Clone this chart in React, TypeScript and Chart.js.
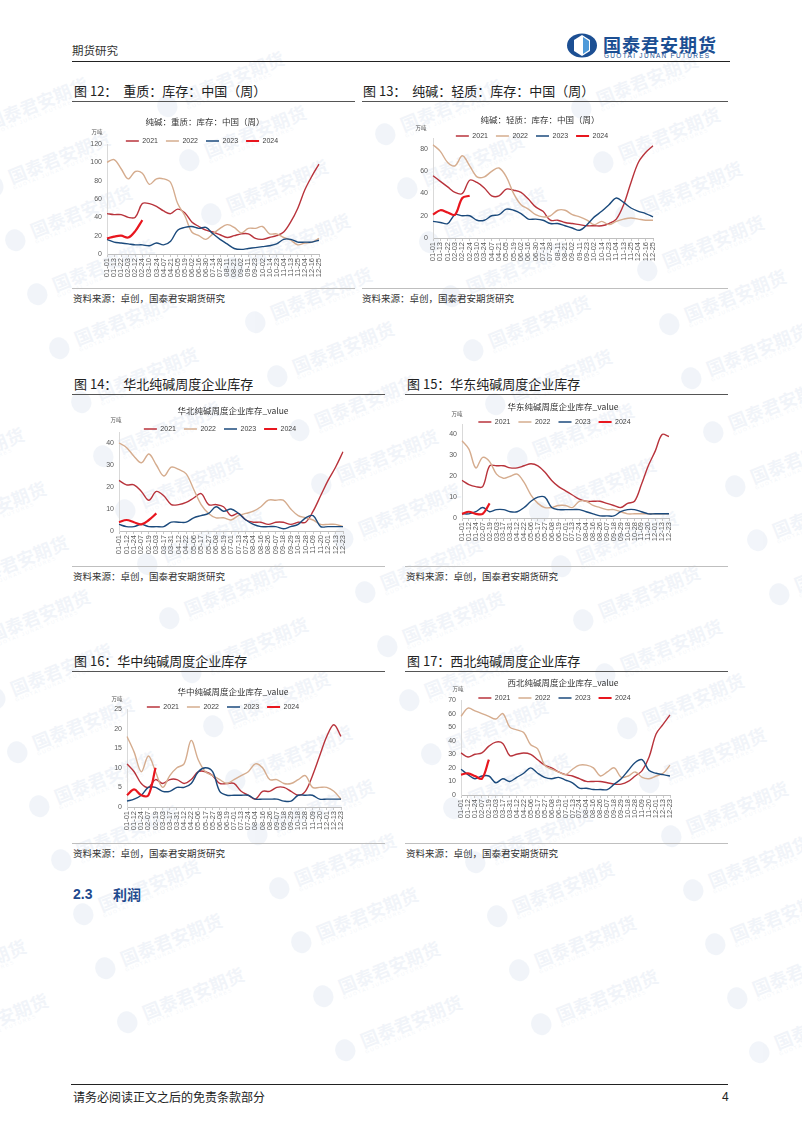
import React, { useEffect, useRef } from "react";
import { Chart, registerables } from "chart.js";

Chart.register(...registerables);

// ---------- categories ----------
const labelsHeavyLight = ["01-01","01-13","01-22","02-03","02-12","02-24","03-10","03-24","04-07","04-21","05-05","05-19","06-02","06-16","06-30","07-14","07-28","08-11","08-21","09-02","09-11","09-23","10-02","10-14","10-23","11-04","11-13","11-25","12-04","12-16","12-25"];
const labelsRegion = ["01-01","01-12","01-24","02-07","02-19","03-03","03-17","03-31","04-12","04-22","05-06","05-17","05-27","06-08","06-19","07-01","07-13","07-24","08-04","08-16","08-26","09-07","09-18","09-29","10-18","10-28","11-09","11-20","12-01","12-13","12-23"];

type V = (number | null)[];

// ---------- 图12 重质 ----------
const heavy2021: V = [44,43,43,40,40,55,55,52,47,44,49,45,35,30,26,24,21,18,20,22,22,17,16,18,20,24,35,50,70,85,98];
const heavy2022: V = [100,103,93,82,90,88,76,82,82,78,55,42,24,20,16,22,28,32,29,23,28,28,30,22,22,18,15,10,12,13,17];
const heavy2023: V = [16,13,12,11,10,10,9,12,10,14,26,29,30,28,29,22,16,11,6,5,6,7,8,9,11,16,16,13,13,13,15];
const heavy2024: V = [17,19,20,18,25,37];

// ---------- 图13 轻质 ----------
const light2021: V = [56,51,46,41,40,52,50,45,38,38,44,43,41,35,28,24,16,16,14,13,12,11,11,11,13,17,30,50,68,77,83];
const light2022: V = [84,78,68,65,74,65,55,55,60,63,55,40,30,26,21,19,20,25,25,21,19,16,12,15,12,15,17,18,17,16,16];
const light2023: V = [15,14,13,21,20,20,16,16,20,21,26,25,22,17,17,16,13,13,11,9,7,12,19,24,30,36,32,27,24,22,19];
const light2024: V = [21,25,23,21,36,38];

// ---------- 图14 华北 ----------
const north2021: V = [23,21,21,18,14,18,16,12,12,13,15,17,12,12,11,7,8,5,4,4,3,4,4,3,4,4,9,16,23,29,36];
const north2022: V = [40,38,34,31,35,30,25,29,28,26,19,12,8,6,6,5,7,8,9,11,14,14,14,10,7,6,5,3,3,3,2];
const north2023: V = [3,2,2,3,2,2,2,4,4,4,6,7,8,11,9,10,8,5,3,2,2,2,1,2,3,6,7,2,2,2,2];
const north2024: V = [4,5,4,3,5,8];

// ---------- 图15 华东 ----------
const east2021: V = [18,16,15,15,25,25,25,24,24,25,26,25,22,18,15,13,11,9,8,8,8,7,6,5,7,8,16,25,32,40,39];
const east2022: V = [37,33,24,29,27,21,19,20,21,17,11,7,5,5,6,6,5,8,8,6,5,4,4,3,2,2,2,2,2,2,2];
const east2023: V = [2,2,3,5,3,4,4,3,3,5,8,10,10,5,4,4,4,4,3,2,1,1,1,3,4,4,3,2,2,2,2];
const east2024: V = [2,3,2,2,7];

// ---------- 图16 华中 ----------
const central2021: V = [11,9,6,5,7,6,7,7,6,7,9,9,8,6,6,6,4,3,2,4,4,5,5,4,3,4,8,13,18,21,18];
const central2022: V = [18,14,9,13,9,5,8,10,11,17,12,9,8,7,6,7,8,9,11,10,7,7,6,6,7,8,5,5,5,4,2];
const central2023: V = [1.5,2,3,5,5,4,4,5,5,6,9,10,9,4,3,3,3,3,2,2,2,2,1.5,1.5,3,3,3,2,2,2,2];
const central2024: V = [3,4.5,3,3,10];

// ---------- 图17 西北 ----------
const nw2021: V = [31,28,30,31,36,39,38,29,30,31,30,26,22,20,17,15,14,12,10,10,10,9,8,8,10,14,18,28,45,52,59];
const nw2022: V = [58,64,62,60,58,56,60,50,48,46,37,34,22,19,17,15,19,22,22,20,14,17,20,13,14,17,13,12,14,16,22];
const nw2023: V = [19,15,12,14,14,9,12,10,13,16,20,16,13,12,13,11,9,5,5,4,4,4,8,12,18,24,26,18,16,15,14];
const nw2024: V = [15,16,14,12,26];

const seriesNames = ["2021", "2022", "2023", "2024"];
const seriesColors = ["#B8333B", "#D5AC8E", "#1B4A7C", "#E8161E"];
const seriesWidths = [1.4, 1.4, 1.4, 2.2];

const FONT_LAT = "'Liberation Sans', Arial, sans-serif";
const FONT_CJK = "'Noto Sans CJK SC', sans-serif";

const Y_W = 26;
const TOP_PAD = 30;
const RIGHT_PAD = 6;
const X_H = 30;
const LEGEND_FONT = 7;
const LEGEND_PAD = 8;

type Panel = {
  title: string;
  labels: string[];
  series: V[];
  yMax: number;
  yStep: number;
  plot: [number, number, number, number]; // left, top, right, bottom (page px)
  titlePos: [number, number];
  unitPos: [number, number];
  legendY: number;
};

const captionPlugin = {
  id: "caption",
  afterDraw(chart: any, _a: any, o: any) {
    const ctx = chart.ctx;
    ctx.save();
    (o.items || []).forEach((it: any) => {
      ctx.font = `${it.size}px ${FONT_CJK}`;
      ctx.fillStyle = it.color || "#404040";
      ctx.textAlign = "center";
      ctx.textBaseline = "middle";
      ctx.fillText(it.text, it.x, it.y);
    });
    ctx.restore();
  },
};

// legend is laid out with a 1px box (so it takes no room), then moved to its place
const legendPosPlugin = {
  id: "legendPos",
  afterLayout(chart: any, _a: any, o: any) {
    const lg = chart.legend;
    if (!lg || o.y == null) return;
    lg.top = o.y;
    lg.bottom = o.y + 24;
    lg.height = 24;
  },
};

function LineChart({ p }: { p: Panel }) {
  const ref = useRef<HTMLCanvasElement>(null);
  const L = p.plot[0] - Y_W;
  const T = p.plot[1] - TOP_PAD;
  const W = p.plot[2] + RIGHT_PAD - L;
  const H = p.plot[3] + X_H - T;
  useEffect(() => {
    const chart = new Chart(ref.current as HTMLCanvasElement, {
      type: "line",
      data: {
        labels: p.labels,
        datasets: p.series.map((d, i) => ({
          label: seriesNames[i],
          data: d,
          borderColor: seriesColors[i],
          backgroundColor: seriesColors[i],
          borderWidth: seriesWidths[i],
          pointRadius: 0,
          pointHoverRadius: 0,
          tension: 0.35,
          fill: false,
          order: 4 - i,
        })),
      },
      options: {
        responsive: false,
        animation: false,
        layout: { padding: { top: TOP_PAD - 1, right: RIGHT_PAD, left: 0, bottom: 0 } },
        plugins: {
          tooltip: { enabled: false },
          title: { display: false },
          legend: {
            position: "top",
            align: "center",
            maxHeight: 1,
            labels: {
              usePointStyle: true,
              pointStyle: "line",
              pointStyleWidth: 13,
              boxHeight: LEGEND_FONT,
              padding: LEGEND_PAD,
              color: "#404040",
              font: { size: LEGEND_FONT, family: FONT_LAT },
              sort: (a: any, b: any) => a.datasetIndex - b.datasetIndex,
            },
          },
          caption: {
            items: [
              { text: p.title, x: p.titlePos[0] - L, y: p.titlePos[1] - T, size: 8.5, color: "#333" },
              { text: "万吨", x: p.unitPos[0] - L, y: p.unitPos[1] - T, size: 5.5, color: "#555" },
            ],
          },
          legendPos: { y: p.legendY - T - LEGEND_PAD - LEGEND_FONT / 2 },
        } as any,
        scales: {
          x: {
            type: "category",
            offset: false,
            grid: { display: true, drawOnChartArea: false, drawTicks: true, tickLength: 3, color: "#c8c8c8" },
            border: { display: true, color: "#bfbfbf" },
            ticks: {
              autoSkip: false,
              minRotation: 90,
              maxRotation: 90,
              padding: 1,
              color: "#595959",
              font: { size: 7.5, family: FONT_LAT },
            },
            afterFit: (s: any) => { s.height = X_H; },
          },
          y: {
            min: 0,
            max: p.yMax,
            grid: { display: false, drawTicks: false },
            border: { display: true, color: "#d9d9d9" },
            ticks: {
              stepSize: p.yStep,
              padding: 5,
              color: "#595959",
              font: { size: 7, family: FONT_LAT },
            },
            afterFit: (s: any) => { s.width = Y_W; },
          },
        },
      },
      plugins: [captionPlugin, legendPosPlugin],
    });
    return () => chart.destroy();
  }, []);
  return (
    <canvas
      ref={ref}
      width={W}
      height={H}
      style={{ position: "absolute", left: L, top: T, width: W, height: H }}
    />
  );
}

const panels: Panel[] = [
  {
    title: "纯碱：重质：库存：中国（周）",
    labels: labelsHeavyLight,
    series: [heavy2021, heavy2022, heavy2023, heavy2024],
    yMax: 120, yStep: 20,
    plot: [107, 144, 323, 254],
    titlePos: [205, 122], unitPos: [97, 132], legendY: 141,
  },
  {
    title: "纯碱：轻质：库存：中国（周）",
    labels: labelsHeavyLight,
    series: [light2021, light2022, light2023, light2024],
    yMax: 90, yStep: 10,
    plot: [433, 138, 657, 238],
    titlePos: [540, 120], unitPos: [421, 128], legendY: 136,
  },
  {
    title: "华北纯碱周度企业库存_value",
    labels: labelsRegion,
    series: [north2021, north2022, north2023, north2024],
    yMax: 45, yStep: 5,
    plot: [119, 432, 347, 531],
    titlePos: [233, 411], unitPos: [116, 420], legendY: 429,
  },
  {
    title: "华东纯碱周度企业库存_value",
    labels: labelsRegion,
    series: [east2021, east2022, east2023, east2024],
    yMax: 45, yStep: 5,
    plot: [462, 424, 673, 518],
    titlePos: [563, 407], unitPos: [457, 414], legendY: 422,
  },
  {
    title: "华中纯碱周度企业库存_value",
    labels: labelsRegion,
    series: [central2021, central2022, central2023, central2024],
    yMax: 25, yStep: 5,
    plot: [127, 709, 345, 807],
    titlePos: [233, 692], unitPos: [117, 699], legendY: 707,
  },
  {
    title: "西北纯碱周度企业库存_value",
    labels: labelsRegion,
    series: [nw2021, nw2022, nw2023, nw2024],
    yMax: 70, yStep: 10,
    plot: [461, 700, 674, 795],
    titlePos: [563, 683], unitPos: [458, 689], legendY: 698,
  },
];

function Txt({ x, y, size, children, color = "#222", weight = 400, family = FONT_CJK, ls = 0 }: any) {
  return (
    <div
      style={{
        position: "absolute", left: x, top: y - size / 2, fontSize: size, lineHeight: 1,
        color, fontWeight: weight, fontFamily: family, whiteSpace: "pre", letterSpacing: ls,
      }}
    >
      {children}
    </div>
  );
}

function HLine({ x1, x2, y, color = "#333", w = 1 }: any) {
  return <div style={{ position: "absolute", left: x1, top: y, width: x2 - x1, height: w, background: color }} />;
}

function Watermark({ x, y }: { x: number; y: number }) {
  return (
    <div
      style={{
        position: "absolute", left: x, top: y, transform: "rotate(-22deg)", transformOrigin: "0 50%",
        display: "flex", alignItems: "center", opacity: 0.06, pointerEvents: "none",
      }}
    >
      <div style={{ width: 20, height: 22, borderRadius: "50%", background: "#1f5aa6", marginRight: 8 }} />
      <div>
        <div style={{ fontSize: 18, fontWeight: 700, color: "#1f5aa6", fontFamily: FONT_CJK, lineHeight: 1, whiteSpace: "nowrap" }}>国泰君安期货</div>
        <div style={{ fontSize: 5, color: "#1f5aa6", fontFamily: FONT_LAT, letterSpacing: 1.5, whiteSpace: "nowrap" }}>GUOTAI JUNAN FUTURES</div>
      </div>
    </div>
  );
}

const marks: [number, number][] = [];
for (let j = -3; j <= 4; j++) {
  for (let k = -16; k <= 5; k++) {
    const x = 270 + k * 22 + j * 218;
    const y = 880 + k * 54 + j * 28;
    if (x > -120 && x < 790 && y > 90 && y < 1050) marks.push([x, y]);
  }
}

export default function App() {
  return (
    <div style={{ position: "absolute", left: 0, top: 0, width: 802, height: 1134, background: "#fff", overflow: "hidden" }}>
      {marks.map(([x, y], i) => <Watermark key={i} x={x} y={y} />)}

      {/* header */}
      <Txt x={72} y={51} size={11.5} color="#333">期货研究</Txt>
      <svg style={{ position: "absolute", left: 566, top: 33 }} width={32} height={25} viewBox="0 0 32 25">
        <ellipse cx={16} cy={12.5} rx={15} ry={12} fill="#1c4f93" />
        <polygon points="16,2 24,7 24,18 16,23 8,18 8,7" fill="#ffffff" />
        <polygon points="17,4 23,8 23,17 17,21" fill="#4f9ad9" />
      </svg>
      <Txt x={603} y={44} size={18} weight={700} color="#1c4f93" ls={1}>国泰君安期货</Txt>
      <Txt x={604} y={56} size={6.5} color="#1c4f93" family={FONT_LAT} ls={1.3}>GUOTAI JUNAN FUTURES</Txt>
      <HLine x1={72} x2={730} y={61} color="#222" w={1.3} />

      {/* row 1 */}
      <Txt x={74} y={90} size={13}>图 12：  重质：库存：中国（周）</Txt>
      <Txt x={363} y={90} size={13}>图 13：  纯碱：轻质：库存：中国（周）</Txt>
      <HLine x1={72} x2={355} y={101} color="#555" w={1.3} />
      <HLine x1={362} x2={728} y={101} color="#555" w={1.3} />
      <HLine x1={72} x2={355} y={288} color="#bfbfbf" w={1} />
      <HLine x1={362} x2={728} y={288} color="#bfbfbf" w={1} />
      <Txt x={73} y={299} size={9.5} color="#333">资料来源：卓创，国泰君安期货研究</Txt>
      <Txt x={362} y={299} size={9.5} color="#333">资料来源：卓创，国泰君安期货研究</Txt>

      {/* row 2 */}
      <Txt x={74} y={383} size={13}>图 14：  华北纯碱周度企业库存</Txt>
      <Txt x={407} y={383} size={13}>图 15：华东纯碱周度企业库存</Txt>
      <HLine x1={72} x2={385} y={394} color="#555" w={1.3} />
      <HLine x1={405} x2={728} y={394} color="#555" w={1.3} />
      <HLine x1={72} x2={385} y={566} color="#bfbfbf" w={1} />
      <HLine x1={405} x2={728} y={566} color="#bfbfbf" w={1} />
      <Txt x={73} y={577} size={9.5} color="#333">资料来源：卓创，国泰君安期货研究</Txt>
      <Txt x={406} y={577} size={9.5} color="#333">资料来源：卓创，国泰君安期货研究</Txt>

      {/* row 3 */}
      <Txt x={74} y={660} size={13}>图 16：华中纯碱周度企业库存</Txt>
      <Txt x={407} y={660} size={13}>图 17：西北纯碱周度企业库存</Txt>
      <HLine x1={72} x2={385} y={671} color="#555" w={1.3} />
      <HLine x1={405} x2={728} y={671} color="#555" w={1.3} />
      <HLine x1={72} x2={385} y={843} color="#bfbfbf" w={1} />
      <HLine x1={405} x2={728} y={843} color="#bfbfbf" w={1} />
      <Txt x={73} y={854} size={9.5} color="#333">资料来源：卓创，国泰君安期货研究</Txt>
      <Txt x={406} y={854} size={9.5} color="#333">资料来源：卓创，国泰君安期货研究</Txt>

      {panels.map((p, i) => <LineChart key={i} p={p} />)}

      {/* section */}
      <Txt x={73} y={894} size={14} weight={700} color="#1f4a8e" family={FONT_LAT}>2.3</Txt>
      <Txt x={113} y={894} size={14} weight={700} color="#1f4a8e">利润</Txt>

      {/* footer */}
      <HLine x1={71} x2={728} y={1084} color="#222" w={1.2} />
      <Txt x={73} y={1097} size={12} color="#222">请务必阅读正文之后的免责条款部分</Txt>
      <Txt x={722} y={1097} size={12} color="#222" family={FONT_LAT}>4</Txt>
    </div>
  );
}
